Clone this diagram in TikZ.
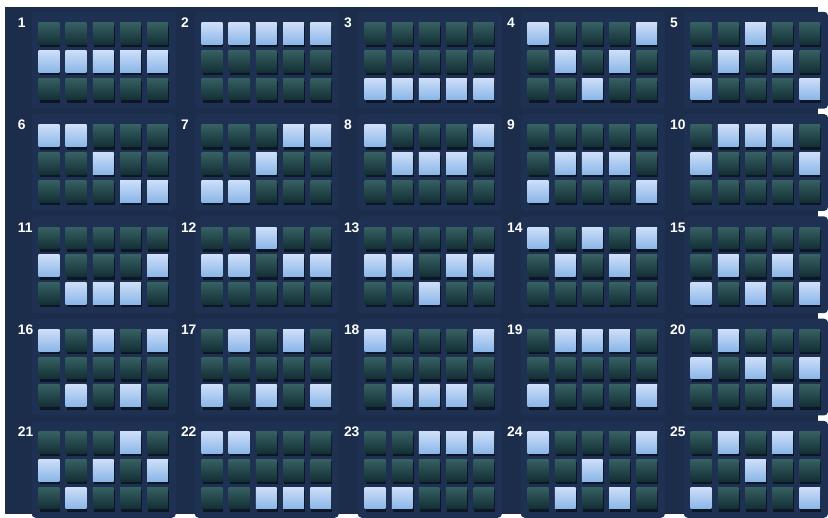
\documentclass[tikz,border=0pt]{standalone}
\usepackage{fontspec}
\setsansfont{Liberation Sans}
\usetikzlibrary{calc}
\definecolor{slotbg}{RGB}{28,44,75}
\definecolor{slotpanel}{RGB}{31,49,82}
\definecolor{celloffT}{RGB}{54,96,98}
\definecolor{celloffB}{RGB}{19,47,54}
\definecolor{cellonT}{RGB}{205,222,248}
\definecolor{cellonB}{RGB}{138,182,232}
\tikzset{
  offcell/.style={top color=celloffT, bottom color=celloffB, draw=none},
  oncell/.style={top color=cellonT, bottom color=cellonB, draw=none},
  cellshadow/.style={fill=black, opacity=0.55},
  linelabel/.style={anchor=north west, inner sep=0pt, text=white,
                    font=\sffamily\bfseries\fontsize{14}{14}\selectfont},
}

\begin{document}
\begin{tikzpicture}[x=1pt,y=-1pt]
  \fill[white] (0,0) rectangle (828,520);
  \fill[slotbg] (5,7) rectangle (828,520);
  % one panel per pay line, row of the lit cell per reel
  \foreach \n/\pat in {1/{1,1,1,1,1}, 2/{0,0,0,0,0}, 3/{2,2,2,2,2},
      4/{0,1,2,1,0}, 5/{2,1,0,1,2}, 6/{0,0,1,2,2}, 7/{2,2,1,0,0},
      8/{0,1,1,1,0}, 9/{2,1,1,1,2}, 10/{1,0,0,0,1}, 11/{1,2,2,2,1},
      12/{1,1,0,1,1}, 13/{1,1,2,1,1}, 14/{0,1,0,1,0}, 15/{2,1,2,1,2},
      16/{0,2,0,2,0}, 17/{2,0,2,0,2}, 18/{0,2,2,2,0}, 19/{2,0,0,0,2},
      20/{1,0,1,2,1}, 21/{1,2,1,0,1}, 22/{0,0,2,2,2}, 23/{2,2,0,0,0},
      24/{0,2,1,2,0}, 25/{2,0,1,0,2}} {
    \pgfmathtruncatemacro{\pc}{mod(\n-1,5)}
    \pgfmathtruncatemacro{\pr}{div(\n-1,5)}
    \pgfmathsetmacro{\px}{18+165*\pc}
    \pgfmathsetmacro{\py}{18+103.5*\pr}
    \fill[slotpanel, rounded corners=4pt] (\px+14,\py-6) rectangle (\px+160,\py+92);
    \node[linelabel] (lab\n) at (\px,\py) {\n};
    \foreach \c in {1,...,5} {
      \foreach \r in {0,1,2} {
        \coordinate (c\n-\c-\r) at (\px+21+27.5*\c-27.5, \py+5+28*\r);
        \fill[cellshadow] ($(c\n-\c-\r)+(1,3)$) rectangle ++(21,22);
        \fill[offcell] (c\n-\c-\r) rectangle ++(21,22);
      }
    }
    \foreach \r [count=\c] in \pat {
      \fill[oncell] (c\n-\c-\r) rectangle ++(21,22);
    }
  }
  \useasboundingbox (0,0) rectangle (828,520);
\end{tikzpicture}
\end{document}
